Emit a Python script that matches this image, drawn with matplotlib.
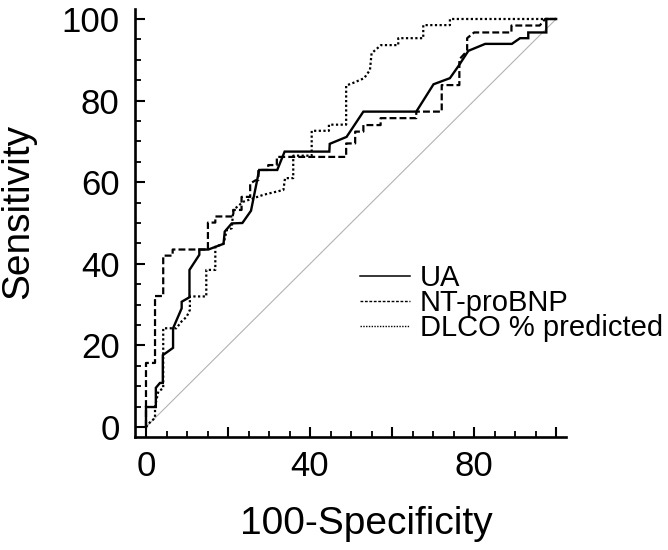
import matplotlib
matplotlib.use("Agg")
import matplotlib.pyplot as plt
from matplotlib.ticker import FixedLocator, FixedFormatter
from matplotlib.lines import Line2D

plt.rcParams['font.family'] = ['Liberation Sans', 'DejaVu Sans']

# ROC curves (x = 100-Specificity, y = Sensitivity)
ua_x = [0, 0, 2.4, 2.4, 3.4, 4.1, 4.1, 6.6, 6.6, 8.7, 8.7, 10.6, 10.6, 13.0, 13.0, 15.2,
        18.9, 19.2, 20.9, 23.5, 25.6, 27.6, 32.0, 33.8, 44.7, 44.8, 48.9, 53.0, 65.9,
        70.1, 74.1, 76.2, 78.6, 82.7, 89.2, 91.2, 93.2, 93.2, 97.6, 97.6, 100]
ua_y = [0, 4.9, 4.9, 9.6, 10.8, 10.8, 17.6, 19.4, 24.2, 29.1, 30.7, 31.8, 38.5, 42.2, 43.5, 43.5,
        44.9, 47.9, 49.9, 50.0, 53.0, 63.0, 63.0, 67.5, 67.5, 69.4, 71.1, 77.3, 77.3,
        84.0, 85.5, 88.5, 92.2, 93.9, 93.9, 95.3, 95.3, 96.7, 96.7, 100, 100]

bnp_x = [0, 0, 2.2, 2.2, 4.2, 4.2, 6.5, 6.5, 15.1, 15.1, 16.9, 16.9, 21.3, 21.3, 23.3, 23.3,
         25.4, 25.4, 26.8, 27.4, 27.4, 29.8, 29.8, 31.9, 31.9, 48.8, 48.8, 51.0, 51.0, 53.0,
         53.0, 57.2, 57.2, 65.9, 65.9, 72.1, 72.1, 76.4, 76.4, 78.3, 78.3, 80.0, 89.1, 89.1,
         96.0, 97.3, 100]
bnp_y = [0, 15.7, 15.7, 32.1, 32.1, 42.0, 42.0, 43.5, 43.5, 50.1, 50.1, 51.6, 51.6, 53.2, 53.2, 56.4,
         56.4, 59.7, 60.5, 60.5, 63.0, 63.0, 64.2, 64.2, 66.2, 66.2, 69.5, 69.5, 72.4, 72.4,
         74.0, 74.0, 75.7, 75.7, 77.3, 77.3, 83.8, 83.8, 90.1, 92.2, 95.3, 96.7, 96.7, 98.4,
         98.4, 100, 100]

dlco_x = [0, 1.1, 2.2, 2.2, 3.0, 4.2, 4.2, 7.4, 8.7, 9.9, 10.7, 10.7, 14.7, 14.7, 16.9, 16.9,
          18.9, 19.7, 20.9, 21.3, 23.7, 28.6, 33.5, 33.9, 35.9, 35.9, 40.4, 40.4, 44.6, 44.6,
          48.8, 48.8, 50.2, 53.2, 54.6, 55.0, 57.3, 61.5, 61.5, 67.6, 67.6, 74.1, 74.1, 100]
dlco_y = [0, 1.3, 2.2, 5.0, 8.7, 9.5, 24.2, 24.2, 25.9, 27.0, 28.7, 32.0, 32.0, 38.5, 38.5, 44.2,
          44.9, 48.3, 48.7, 53.2, 55.2, 56.9, 58.1, 61.0, 61.0, 66.5, 66.5, 72.6, 72.6, 74.1,
          74.1, 83.7, 84.2, 85.5, 87.5, 91.6, 93.6, 93.6, 95.3, 95.3, 98.5, 98.5, 100, 100]

series_labels = ['UA', 'NT-proBNP', 'DLCO % predicted']
ref_x = [0, 100]
ref_y = [0, 100]

x_major = [0, 20, 40, 60, 80, 100]
x_labels = ['0', '', '40', '', '80', '']
y_major = [0, 20, 40, 60, 80, 100]
y_labels = ['0', '20', '40', '60', '80', '100']
minor_ticks = [v for v in range(0, 101, 5) if v % 20 != 0]

W, H = 668, 550
fig = plt.figure(figsize=(W / 100, H / 100), dpi=100)
ax = fig.add_axes([135 / W, (H - 437) / H, (566 - 135) / W, (437 - 9) / H])

ax.plot(ref_x, ref_y, color='#b3b3b3', lw=0.8)
dashed = (0, (3.1, 1.4))
dotted = (0, (1, 1.1))
ax.plot(ua_x, ua_y, color='black', lw=1.7, solid_joinstyle='miter')
ax.plot(bnp_x, bnp_y, color='black', lw=1.6, linestyle=dashed)
ax.plot(dlco_x, dlco_y, color='black', lw=1.6, linestyle=dotted)

ax.set_xlim(-2.68, 102.4)
ax.set_ylim(-2.45, 102.45)

for s in ['top', 'right']:
    ax.spines[s].set_visible(False)
for s in ['left', 'bottom']:
    ax.spines[s].set_linewidth(1.9)

ax.xaxis.set_major_locator(FixedLocator(x_major))
ax.xaxis.set_major_formatter(FixedFormatter(x_labels))
ax.yaxis.set_major_locator(FixedLocator(y_major))
ax.yaxis.set_major_formatter(FixedFormatter(y_labels))
ax.xaxis.set_minor_locator(FixedLocator(minor_ticks))
ax.yaxis.set_minor_locator(FixedLocator(minor_ticks))

ax.tick_params(which='major', direction='in', length=7.2, width=1.5, labelsize=25, colors='black')
ax.tick_params(which='minor', direction='in', length=4.3, width=1.3)
ax.tick_params(axis='y', which='major', pad=11)
ax.tick_params(axis='x', which='major', pad=9)

ax.set_xlabel('100-Specificity', fontsize=28)
ax.set_ylabel('Sensitivity', fontsize=28)
ax.xaxis.set_label_coords((366 - 135) / 431, (437 - 506) / 428)
ax.yaxis.set_label_coords((36 - 135) / 431, (437 - 211) / 428)

handles = [Line2D([], [], color='black', lw=1.1),
           Line2D([], [], color='black', lw=1.0, linestyle=(0, (2, 1.2))),
           Line2D([], [], color='black', lw=1.0, linestyle=(0, (1, 1)))]
ax.legend(handles, series_labels, loc='center left',
          bbox_to_anchor=(360 / W, 1 - 303 / H), bbox_transform=fig.transFigure,
          frameon=False, fontsize=21, handlelength=1.72, handletextpad=0.34,
          labelspacing=-0.1, borderpad=0, borderaxespad=0)

fig.savefig('out.png', dpi=100)
